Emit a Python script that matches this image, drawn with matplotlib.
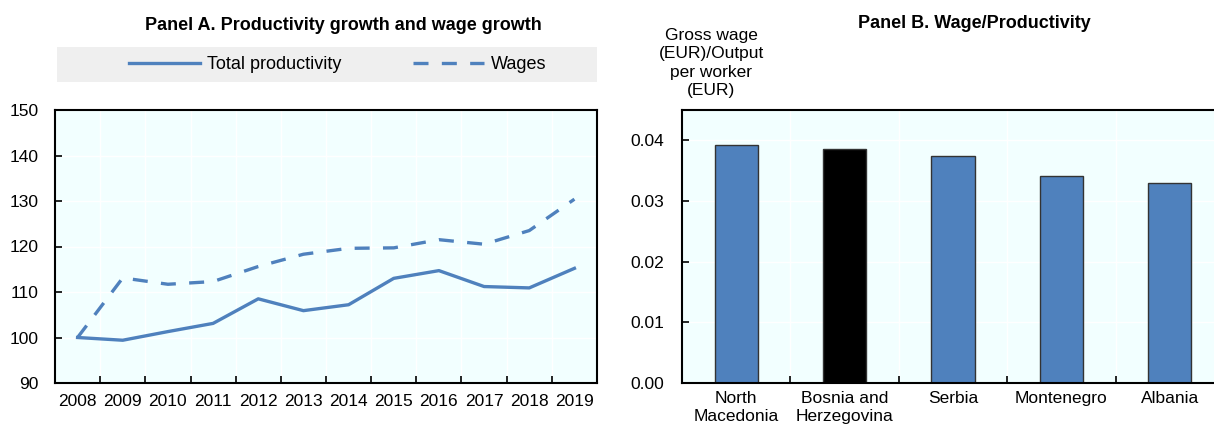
import numpy as np
import matplotlib
matplotlib.use('Agg')
from matplotlib import pyplot as plt

# Data
years = ['2008', '2009', '2010', '2011', '2012', '2013', '2014', '2015', '2016', '2017', '2018', '2019']
productivity = [100, 99.4, 101.3, 103.1, 108.5, 105.9, 107.2, 113.0, 114.7, 111.2, 110.9, 115.2]
wages = [100, 113.1, 111.7, 112.3, 115.6, 118.3, 119.6, 119.7, 121.5, 120.5, 123.5, 130.4]

countries = ['North\nMacedonia', 'Bosnia and\nHerzegovina', 'Serbia', 'Montenegro', 'Albania']
ratio = [0.0393, 0.0386, 0.0375, 0.0342, 0.0329]
highlight = 'Bosnia and\nHerzegovina'

plt.rcParams['font.family'] = ['Liberation Sans', 'DejaVu Sans']
plt.rcParams['font.size'] = 12.5

blue = '#4F81BD'
bg = '#F2FFFF'

fig = plt.figure(figsize=(12.14, 4.30), dpi=100)
W, H = 1214, 430

def rect(x0, y0, x1, y1):
    return [x0 / W, 1 - y1 / H, (x1 - x0) / W, (y1 - y0) / H]

# Panel A
ax1 = fig.add_axes(rect(55, 110, 597, 383))
x = np.arange(len(years))
ax1.plot(x, productivity, color=blue, lw=2.4, label='Total productivity')
ax1.plot(x, wages, color=blue, lw=2.4, ls=(0, (4.5, 4)), label='Wages')
ax1.set_xlim(-0.5, len(years) - 0.5)
ax1.set_ylim(90, 150)
ax1.set_yticks(np.arange(90, 151, 10))
ax1.set_xticks(x)
ax1.set_xticklabels(years)
ax1.set_xticks(np.arange(0.5, len(years) - 1, 1), minor=True)
ax1.tick_params(axis='x', which='major', length=0, pad=8)
ax1.tick_params(axis='x', which='minor', direction='in', length=5, width=1.2)
ax1.tick_params(axis='y', direction='in', length=5, width=1.2, pad=12)
ax1.grid(True, axis='y', color='white', lw=1)
ax1.grid(True, axis='x', which='minor', color='white', lw=1)
ax1.set_facecolor(bg)
for s in ax1.spines.values():
    s.set_linewidth(1.5)
ax1.set_axisbelow(True)

# Legend band for panel A
lax = fig.add_axes(rect(57, 47, 597, 82))
lax.set_facecolor('#EFEFEF')
lax.set_xticks([])
lax.set_yticks([])
for s in lax.spines.values():
    s.set_visible(False)
h, l = ax1.get_legend_handles_labels()
lax.legend(h, l, loc='center', ncol=2, frameon=False, handlelength=3.9,
           handletextpad=0.4, columnspacing=4.0, fontsize=13, borderaxespad=0,
           bbox_to_anchor=(0.52, 0.5))
fig.text(343 / W, 1 - 25 / H, 'Panel A. Productivity growth and wage growth',
         ha='center', va='center', fontweight='bold', fontsize=13)

# Panel B (right spine runs past the figure edge, as in the reference)
ax2 = fig.add_axes(rect(682, 110, 1224, 383))
xb = np.arange(len(countries))
colors = ['black' if c == highlight else blue for c in countries]
ax2.bar(xb, ratio, width=0.4, color=colors, edgecolor='#333333', lw=1)
ax2.set_xlim(-0.5, len(countries) - 0.5)
ax2.set_ylim(0, 0.045)
ax2.set_yticks(np.arange(0, 0.041, 0.01))
ax2.set_yticklabels([f'{v:.2f}' for v in np.arange(0, 0.041, 0.01)])
ax2.set_xticks(xb)
ax2.set_xticklabels(countries)
ax2.set_xticks(np.arange(0.5, len(countries) - 1, 1), minor=True)
ax2.tick_params(axis='x', which='major', length=0, pad=6)
ax2.tick_params(axis='x', which='minor', direction='in', length=5, width=1.2)
ax2.tick_params(axis='y', direction='in', length=5, width=1.2, pad=13)
ax2.grid(True, axis='y', color='white', lw=1)
ax2.grid(True, axis='x', which='minor', color='white', lw=1)
ax2.set_facecolor(bg)
for s in ax2.spines.values():
    s.set_linewidth(1.5)
ax2.set_axisbelow(True)
fig.text(974 / W, 1 - 23 / H, 'Panel B. Wage/Productivity',
         ha='center', va='center', fontweight='bold', fontsize=13)
fig.text(711 / W, 1 - 63 / H, 'Gross wage\n(EUR)/Output\nper worker\n(EUR)',
         ha='center', va='center', fontsize=12.5, linespacing=1.3)

fig.savefig('out.png', dpi=100)
